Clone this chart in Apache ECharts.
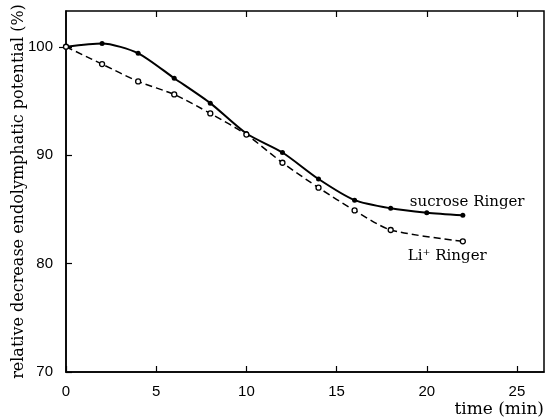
<!DOCTYPE html>
<html><head><meta charset="utf-8">
<script src="https://cdn.jsdelivr.net/npm/echarts@6/dist/echarts.min.js"></script>
<style>html,body{margin:0;padding:0;background:#fff}#c{width:547px;height:419px}</style>
</head><body><div id="c"></div>
<script>
var sucroseTime = [0, 2, 4, 6, 8, 10, 12, 14, 16, 18, 20, 22];
var sucroseValue = [100, 100.3, 99.4, 97.1, 94.8, 92.0, 90.25, 87.8, 85.85, 85.1, 84.7, 84.45];
var lithiumTime = [0, 2, 4, 6, 8, 10, 12, 14, 16, 18, 22];
var lithiumValue = [100, 98.4, 96.8, 95.6, 93.85, 91.9, 89.3, 87.0, 84.9, 83.1, 82.05];
var xTicks = [0, 5, 10, 15, 20, 25];
var yTicks = [70, 80, 90, 100];
var seriesNames = ['sucrose Ringer', 'Li\u207A Ringer'];

function pairs(xs, ys) { return xs.map(function (x, i) { return [x, ys[i]]; }); }

var chart = echarts.init(document.getElementById('c'), null, {renderer: 'canvas'});
var fontNum = 'Liberation Sans';
var fontTxt = 'DejaVu Serif';
chart.setOption({
  animation: false,
  backgroundColor: '#fff',
  grid: {left: 66, right: 3, top: 11, bottom: 47, containLabel: false, outerBoundsMode: 'none', show: true, borderColor: '#000', borderWidth: 1.5, backgroundColor: 'transparent'},
  xAxis: [{
    type: 'value', min: 0, max: 26.5, interval: 5,
    axisLine: {show: true, lineStyle: {color: '#000', width: 1.5}},
    axisTick: {show: true, inside: true, length: 6, lineStyle: {color: '#000', width: 1.2}, customValues: xTicks},
    axisLabel: {color: '#000', fontSize: 15, fontFamily: fontNum, margin: 12, customValues: xTicks},
    splitLine: {show: false},
    name: 'time (min)', nameLocation: 'end', nameGap: 0, nameMoveOverlap: false,
    nameTextStyle: {color: '#000', fontSize: 17, fontFamily: fontTxt, align: 'right', verticalAlign: 'top', padding: [29, 0, 0, 0]}
  }, {
    type: 'value', position: 'top', min: 0, max: 26.5, interval: 5,
    axisLine: {show: false},
    axisTick: {show: true, inside: true, length: 6, lineStyle: {color: '#000', width: 1.2}, customValues: [5, 10, 15, 20, 25]},
    axisLabel: {show: false}, splitLine: {show: false}
  }],
  yAxis: [{
    type: 'value', min: 70, max: 103.3, interval: 10,
    axisLine: {show: true, lineStyle: {color: '#000', width: 1.5}},
    axisTick: {show: true, inside: true, length: 6, lineStyle: {color: '#000', width: 1.2}, customValues: yTicks},
    axisLabel: {color: '#000', fontSize: 15, fontFamily: fontNum, margin: 13, customValues: yTicks},
    splitLine: {show: false},
    name: 'relative decrease endolymphatic potential (%)', nameLocation: 'middle', nameGap: 39, nameRotate: 90, nameMoveOverlap: false,
    nameTextStyle: {color: '#000', fontSize: 16, fontFamily: fontTxt}
  }, {
    type: 'value', position: 'right', min: 70, max: 103.3, interval: 10,
    axisLine: {show: false},
    axisTick: {show: true, inside: true, length: 7, lineStyle: {color: '#000', width: 1.2}, customValues: [100]},
    axisLabel: {show: false}, splitLine: {show: false}
  }],
  series: [{
    name: seriesNames[0], type: 'line', smooth: 0.25,
    data: pairs(sucroseTime, sucroseValue),
    symbol: 'circle', symbolSize: 5,
    itemStyle: {color: '#000'},
    lineStyle: {color: '#000', width: 2, type: 'solid'},
    endLabel: {show: true, formatter: seriesNames[0], color: '#000', fontSize: 15, fontFamily: fontTxt, offset: [-61, -13]}
  }, {
    name: seriesNames[1], type: 'line', smooth: 0.25,
    data: pairs(lithiumTime, lithiumValue),
    symbol: 'circle', symbolSize: 5,
    itemStyle: {color: '#fff', borderColor: '#000', borderWidth: 1.3},
    lineStyle: {color: '#000', width: 1.5, type: [7, 4]},
    endLabel: {show: true, formatter: seriesNames[1], color: '#000', fontSize: 15, fontFamily: fontTxt, offset: [-63, 15]}
  }]
});
</script></body></html>
